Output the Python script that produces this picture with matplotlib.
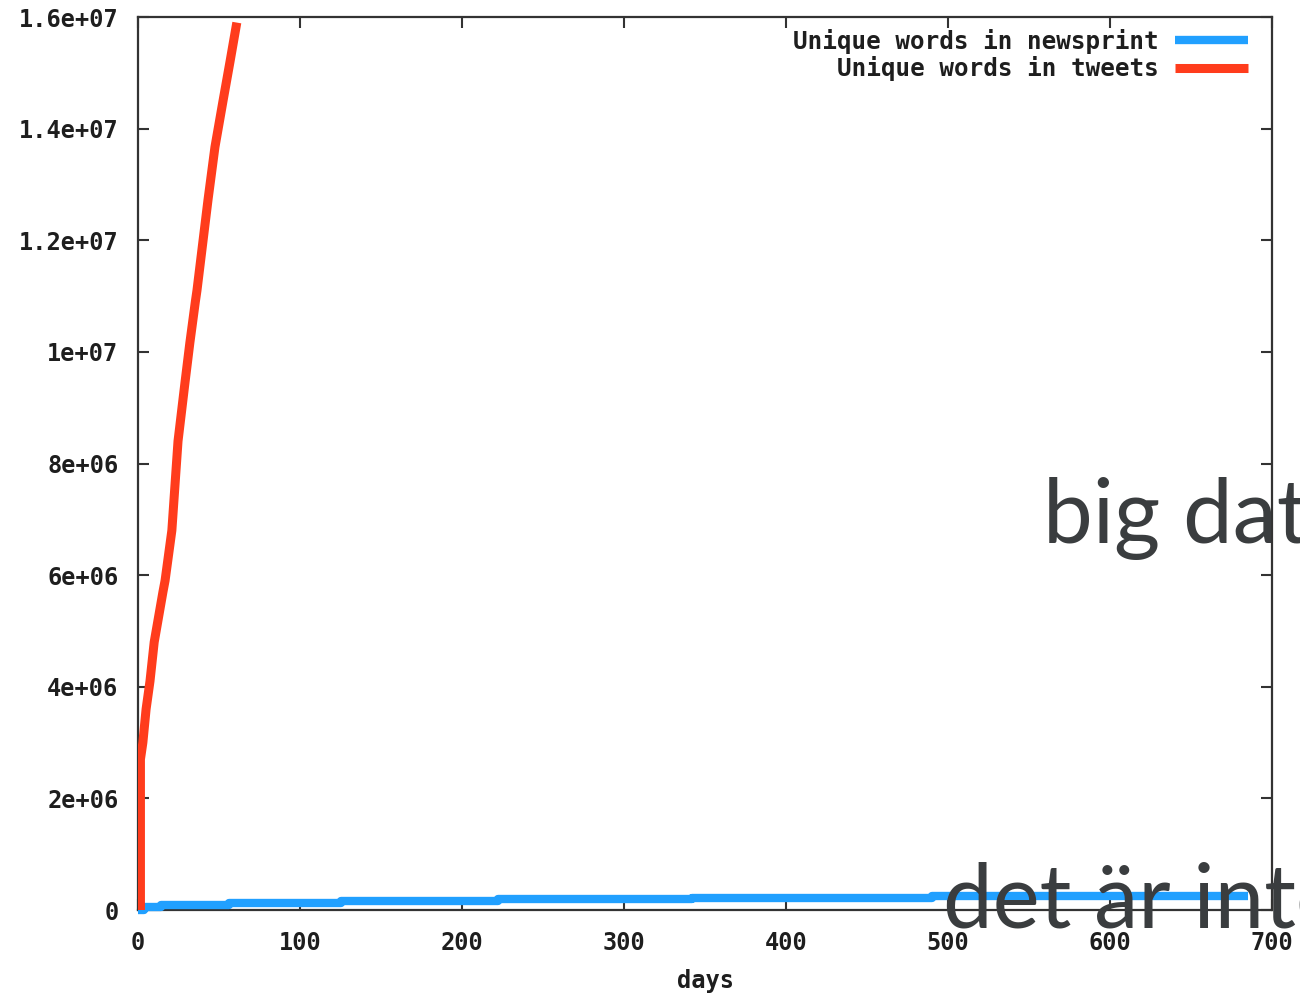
import matplotlib
matplotlib.use("Agg")
import matplotlib.pyplot as plt
from matplotlib.ticker import FixedLocator, FixedFormatter

# ---- data ----
tweet_days = [0, 1.5, 1.5, 3, 5, 7.4, 10, 15.4, 16.7, 20.9, 24.7, 29, 32, 35.4,
              36.4, 43.2, 47.5, 52.5, 56.8, 61]
tweet_words = [0, 0, 2.7e6, 3.0e6, 3.6e6, 4.1e6, 4.8e6, 5.7e6, 5.9e6, 6.8e6, 8.4e6,
               9.45e6, 10.16e6, 10.9e6, 11.1e6, 12.72e6, 13.67e6, 14.5e6, 15.2e6, 15.9e6]

news_days = [0, 4, 14, 56, 125, 222, 342, 490, 685]
news_words = [0, 55e3, 95e3, 130e3, 165e3, 195e3, 220e3, 255e3, 255e3]

x_ticks = [0, 100, 200, 300, 400, 500, 600, 700]
x_labels = ["0", "100", "200", "300", "400", "500", "600", "700"]
y_ticks = [0, 2e6, 4e6, 6e6, 8e6, 1e7, 1.2e7, 1.4e7, 1.6e7]
y_labels = ["0", "2e+06", "4e+06", "6e+06", "8e+06", "1e+07", "1.2e+07", "1.4e+07", "1.6e+07"]

series_labels = ["Unique words in newsprint", "Unique words in tweets"]
overlay_top = "big data"
overlay_bottom = "det är inte"

# ---- style ----
BLUE = "#21a0ff"
RED = "#ff3c1c"
TXT = "#1e1e1e"
SPINE = "#333333"
GRAY = "#3a3d3f"
MONO = dict(family="DejaVu Sans Mono", weight="bold")

fig = plt.figure(figsize=(13, 9.94), dpi=100)
ax = fig.add_axes([138 / 1300, 84 / 994, (1272 - 138) / 1300, (910 - 17) / 994])

ax.step(news_days, news_words, where="post", color=BLUE, lw=6, label=series_labels[0],
        solid_capstyle="butt", clip_on=False, zorder=3)
ax.plot(tweet_days, tweet_words, color=RED, lw=6.5, label=series_labels[1],
        solid_capstyle="butt", solid_joinstyle="miter", zorder=4)

ax.set_xlim(0, 700)
ax.set_ylim(0, 1.6e7)

ax.xaxis.set_major_locator(FixedLocator(x_ticks))
ax.xaxis.set_major_formatter(FixedFormatter(x_labels))
ax.yaxis.set_major_locator(FixedLocator(y_ticks))
ax.yaxis.set_major_formatter(FixedFormatter(y_labels))

ax.tick_params(axis="both", direction="in", length=8, width=1.5, color=SPINE,
               top=True, right=True, labelsize=17, labelcolor=TXT)
ax.tick_params(axis="x", pad=15)
ax.tick_params(axis="y", pad=14)
for lab in ax.get_xticklabels() + ax.get_yticklabels():
    lab.set_fontfamily(MONO["family"])
    lab.set_fontweight(MONO["weight"])

for s in ax.spines.values():
    s.set_color(SPINE)
    s.set_linewidth(1.6)

ax.set_xlabel("days", fontsize=17, color=TXT, labelpad=10, **MONO)

leg = ax.legend(loc="upper right", frameon=False, markerfirst=False,
                prop=dict(family=MONO["family"], weight="bold", size=17.5),
                handlelength=3.0, handletextpad=0.7, labelspacing=0.1,
                borderaxespad=0.3, bbox_to_anchor=(0.994, 1.006))
for t in leg.get_texts():
    t.set_color(TXT)

# overlay slide text
fig.text(1043 / 1300, (994 - 543) / 994, overlay_top, fontsize=64, family="Lato",
         color=GRAY, va="baseline", ha="left", zorder=10)
fig.text(943 / 1300, (994 - 927) / 994, overlay_bottom, fontsize=64, family="Lato",
         color=GRAY, va="baseline", ha="left", zorder=10)

fig.savefig("out.png", dpi=100)
